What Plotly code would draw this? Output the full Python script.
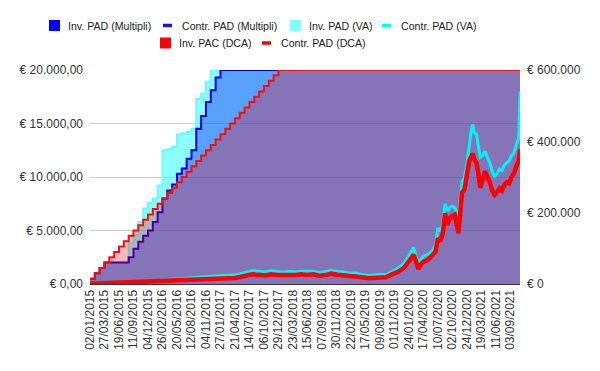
import pandas as pd
import plotly.graph_objects as go

START = pd.Timestamp("2015-01-02")
END_WEEK = 356

# ---- invested capital (left axis), cumulative, at payment weeks ----
dca_weeks = [0, 4, 8, 12, 16, 20, 24, 28, 32, 36, 40, 44, 48, 52, 56, 60, 64, 68, 72, 76,
             80, 84, 88, 92, 96, 100, 104, 108, 112, 116, 120, 124, 128, 132, 136, 140, 144, 148, 152, 156, 356]
dca_inv = [500, 1000, 1500, 2000, 2500, 3000, 3500, 4000, 4500, 5000, 5500, 6000, 6500, 7000, 7500, 8000,
           8500, 9000, 9500, 10000, 10500, 11000, 11500, 12000, 12500, 13000, 13500, 14000, 14500, 15000,
           15500, 16000, 16500, 17000, 17500, 18000, 18500, 19000, 19500, 20000, 20000]

va_weeks = [0, 4, 8, 12, 32, 36, 40, 44, 48, 52, 56, 60, 64, 68, 72, 76, 80, 84, 88, 92, 96, 100, 356]
va_inv = [500, 1000, 1500, 2000, 3800, 4600, 5800, 7050, 7600, 8000, 9200, 12500, 12600, 12800, 14000,
          14100, 14200, 14500, 17300, 17800, 18900, 20000, 20000]

mul_weeks = [0, 4, 8, 12, 32, 36, 40, 44, 48, 52, 56, 60, 64, 68, 72, 76, 80, 84, 88, 92, 96, 100, 104, 108, 356]
mul_inv = [500, 1000, 1500, 2000, 2500, 3300, 3950, 4500, 5000, 5800, 6700, 8000, 8750, 9300, 10300,
           10800, 11700, 12500, 14500, 15700, 17000, 18100, 19300, 20000, 20000]

# ---- portfolio value (right axis) ----
contr_weeks = [0, 12, 26, 40, 52, 60, 70, 80, 90, 100, 106, 110, 116, 120, 126, 130, 133, 135, 138, 140,
               145, 150, 155, 160, 165, 170, 175, 180, 185, 190, 195, 200, 205, 210, 215, 220, 225, 230,
               235, 240, 245, 250, 255, 260, 263, 266, 268, 270, 272, 274, 276, 280, 284, 286, 288, 290,
               292, 294, 296, 298, 300, 302, 305, 308, 310, 312, 314, 316, 317, 318, 320, 322, 323, 325,
               327, 329, 331, 333, 335, 337, 339, 341, 343, 345, 347, 349, 351, 353, 355, 356]
contr_dca = [500, 2000, 2800, 4500, 6500, 7500, 9000, 10000, 11000, 12500, 14000, 15000, 16500, 17000,
             21000, 24000, 27000, 28000, 25000, 26000, 24000, 27000, 25000, 24000, 26000, 25000, 27000,
             25000, 27000, 23000, 25000, 29000, 26000, 25000, 22000, 23000, 19000, 16000, 18000, 20000,
             19000, 27000, 34000, 45000, 60000, 70000, 82000, 62000, 42000, 55000, 62000, 68000, 80000,
             90000, 128000, 120000, 140000, 198000, 166000, 185000, 190000, 194000, 143000, 256000,
             265000, 300000, 345000, 360000, 365000, 350000, 340000, 300000, 270000, 290000, 316000,
             300000, 285000, 262000, 250000, 258000, 268000, 262000, 278000, 285000, 282000, 300000,
             310000, 330000, 345000, 377000]
contr_va = [500, 2000, 3000, 5000, 8000, 11000, 14000, 16000, 18000, 21000, 23000, 24000, 25000, 25000,
            30000, 33000, 37000, 38000, 35000, 36000, 34000, 37000, 35000, 33000, 35000, 34000, 36000,
            35000, 36000, 32000, 34000, 38000, 35000, 34000, 30000, 31000, 27000, 23000, 25000, 27000,
            26000, 36000, 45000, 58000, 75000, 88000, 102000, 78000, 58000, 70000, 78000, 84000, 96000,
            110000, 157000, 148000, 170000, 225000, 205000, 215000, 218000, 214000, 190000, 285000,
            300000, 335000, 390000, 440000, 447000, 425000, 420000, 380000, 355000, 360000, 372000,
            355000, 340000, 315000, 300000, 310000, 322000, 318000, 333000, 340000, 345000, 360000,
            368000, 390000, 410000, 540000]
contr_mul = [500, 2000, 2800, 4500, 6500, 7500, 9000, 10000, 11000, 12500, 14000, 15000, 16500, 17000,
             21000, 24000, 27000, 28000, 25000, 26000, 24000, 27000, 25000, 24000, 26000, 25000, 27000,
             25000, 27000, 23000, 25000, 29000, 26000, 25000, 22000, 23000, 19000, 16000, 18000, 20000,
             19000, 27000, 34000, 45000, 60000, 70000, 82000, 62000, 42000, 55000, 62000, 68000, 80000,
             90000, 128000, 120000, 140000, 198000, 166000, 185000, 190000, 194000, 143000, 256000,
             265000, 300000, 345000, 360000, 365000, 350000, 340000, 300000, 270000, 290000, 316000,
             300000, 285000, 262000, 250000, 258000, 268000, 262000, 278000, 285000, 282000, 300000,
             310000, 330000, 345000, 377000]

x_labels = ["02/01/2015", "27/03/2015", "19/06/2015", "11/09/2015", "04/12/2015", "26/02/2016",
            "20/05/2016", "12/08/2016", "04/11/2016", "27/01/2017", "21/04/2017", "14/07/2017",
            "06/10/2017", "29/12/2017", "23/03/2018", "15/06/2018", "07/09/2018", "30/11/2018",
            "22/02/2019", "17/05/2019", "09/08/2019", "01/11/2019", "24/01/2020", "17/04/2020",
            "10/07/2020", "02/10/2020", "24/12/2020", "19/03/2021", "11/06/2021", "03/09/2021"]
y_left_vals = [0, 5000, 10000, 15000, 20000]
y_left_text = ["€ 0,00", "€ 5.000,00", "€ 10.000,00", "€ 15.000,00", "€ 20.000,00"]
y_right_vals = [0, 200000, 400000, 600000]
y_right_text = ["€ 0", "€ 200.000", "€ 400.000", "€ 600.000"]

names = ["Inv. PAD (Multipli)", "Contr. PAD (Multipli)", "Inv. PAD (VA)", "Contr. PAD (VA)",
         "Inv. PAC (DCA)", "Contr. PAD (DCA)"]
leg_colors = ["#0000ff", "#1a1acc", "#80ffff", "#00ffff", "#ff0000", "#ff0000"]

# layout geometry (screen pixels); the page body adds an 8px offset
W, H = 600, 371
OFF = 8
L, R, T, B = 90, 80, 70, 87          # wanted on screen
ML, MR, MT, MB = L - OFF, R + OFF, T - OFF, B + OFF
PW, PH = W - ML - MR, H - MT - MB
# legend symbol left edges and row centres (screen px)
leg_sym_x = [49, 163, 290, 382, 160, 262]
leg_row_y = [25.5, 25.5, 25.5, 25.5, 43, 43]


def dates(weeks):
    return [START + pd.Timedelta(weeks=w) for w in weeks]


def px_x(px):
    return (px - L) / PW


def px_y(py):
    return (T + PH - py) / PH


FONT = "Arial, Liberation Sans, sans-serif"
fig = go.Figure()

# areas (left axis)
fig.add_trace(go.Scatter(x=dates(va_weeks), y=va_inv, mode="lines", line=dict(shape="hv", color="#6ffafa", width=2),
                         fill="tozeroy", fillcolor="rgba(0,255,255,0.45)", name=names[2], showlegend=False))
fig.add_trace(go.Scatter(x=dates(mul_weeks), y=mul_inv, mode="lines", line=dict(shape="hv", color="#0000dd", width=2),
                         fill="tozeroy", fillcolor="rgba(0,0,255,0.37)", name=names[0], showlegend=False))
fig.add_trace(go.Scatter(x=dates(dca_weeks), y=dca_inv, mode="lines", line=dict(shape="hv", color="#ee1111", width=2),
                         fill="tozeroy", fillcolor="rgba(255,0,0,0.28)", name=names[4], showlegend=False))

# value lines (right axis)
fig.add_trace(go.Scatter(x=dates(contr_weeks), y=contr_mul, mode="lines", yaxis="y2", name=names[1],
                         line=dict(color="#1a1acc", width=3), showlegend=False))
fig.add_trace(go.Scatter(x=dates(contr_weeks), y=contr_va, mode="lines", yaxis="y2", name=names[3],
                         line=dict(color="#00f4f4", width=3), showlegend=False))
fig.add_trace(go.Scatter(x=dates(contr_weeks), y=contr_dca, mode="lines", yaxis="y2", name=names[5],
                         line=dict(color="#ff0000", width=4.5), showlegend=False))

# legend (drawn manually so that rows are centred as in the original)
shapes, annots = [], []
for i, (nm, col) in enumerate(zip(names, leg_colors)):
    sx, cy = leg_sym_x[i], leg_row_y[i]
    if i % 2 == 0:
        shapes.append(dict(type="rect", xref="paper", yref="paper", x0=px_x(sx), x1=px_x(sx + 11),
                           y0=px_y(cy + 5.5), y1=px_y(cy - 5.5), fillcolor=col, line=dict(width=0)))
    else:
        shapes.append(dict(type="line", xref="paper", yref="paper", x0=px_x(sx), x1=px_x(sx + 9),
                           y0=px_y(cy), y1=px_y(cy), line=dict(color=col, width=3.5)))
    annots.append(dict(text=nm, xref="paper", yref="paper", x=px_x(sx + 17), y=px_y(cy), xanchor="left",
                       yanchor="middle", showarrow=False, font=dict(family=FONT, size=10.6, color="#222222")))

fig.update_layout(
    width=W, height=H,
    margin=dict(l=ML, r=MR, t=MT, b=MB),
    paper_bgcolor="white", plot_bgcolor="white",
    font=dict(family=FONT, size=12, color="#333333"),
    showlegend=False,
    shapes=shapes, annotations=annots,
    xaxis=dict(type="date", range=[START, START + pd.Timedelta(weeks=END_WEEK)],
               tickvals=[pd.to_datetime(s, format="%d/%m/%Y") for s in x_labels], ticktext=x_labels,
               tickangle=-90, showgrid=False, showline=True, linecolor="#333333", linewidth=1,
               ticks="", tickfont=dict(size=12, color="#333333"), zeroline=False, automargin=False),
    yaxis=dict(range=[0, 20000], tickvals=y_left_vals, ticktext=y_left_text, showgrid=True,
               gridcolor="#cccccc", gridwidth=1, zeroline=False, ticks="", ticklabelstandoff=6,
               tickfont=dict(size=12, color="#333333"), automargin=False),
    yaxis2=dict(range=[0, 600000], overlaying="y", side="right", tickvals=y_right_vals,
                ticktext=y_right_text, showgrid=False, zeroline=False, ticks="", ticklabelstandoff=6,
                tickfont=dict(size=12, color="#333333"), automargin=False),
)

fig.write_html("out.html")
